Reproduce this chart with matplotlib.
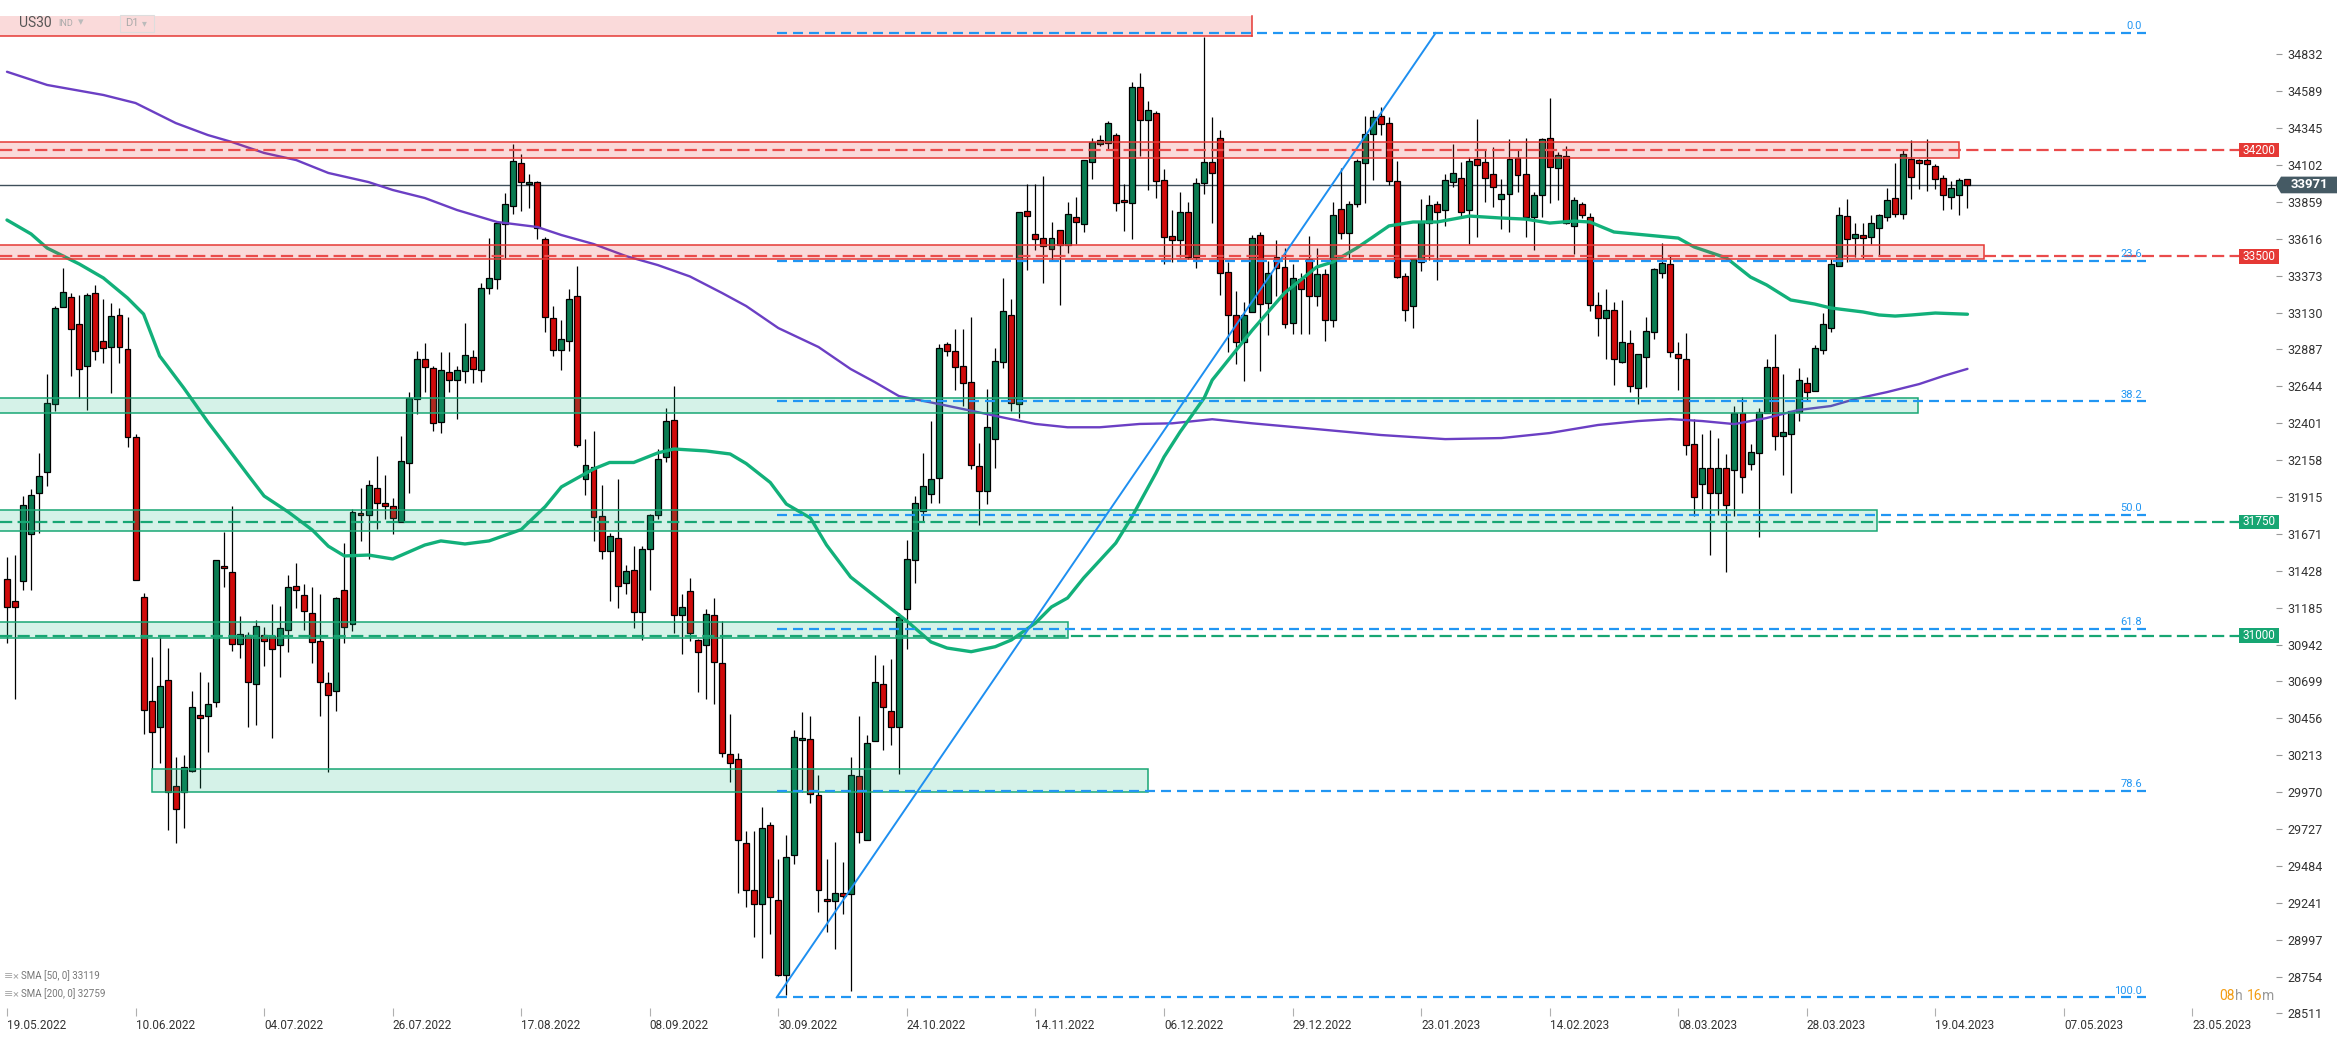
import numpy as np
import matplotlib
matplotlib.use('Agg')
import matplotlib.pyplot as plt
import matplotlib.transforms as mtrans
from matplotlib.patches import Rectangle, Polygon

plt.rcParams['font.family'] = ['Roboto', 'DejaVu Sans']

# daily candles US30 (bar 0 = 19.05.2022)
opens = [31373, 31231, 31364, 31673, 31943, 32076, 32528, 33164, 33234, 33055,
         32776, 33261, 32940, 32900, 33116, 32891, 32310, 31258, 30567, 30398,
         30707, 30007, 29970, 30110, 30479, 30473, 30564, 31458, 31419, 30946,
         31004, 30683, 31004, 31001, 30940, 31040, 31331, 31267, 31152, 30964,
         30689, 30635, 31304, 31075, 31811, 31793, 31974, 31876, 31856, 31750,
         32140, 32561, 32823, 32765, 32410, 32737, 32687, 32745, 32838, 32750,
         33291, 33349, 33714, 33830, 34114, 33976, 33989, 33618, 33097, 32881,
         32944, 33238, 32032, 32113, 31788, 31561, 31647, 31345, 31435, 31156,
         31574, 31793, 32178, 32425, 31138, 31296, 30974, 30941, 31138, 30820,
         30218, 30185, 29634, 29325, 29232, 29752, 29257, 28766, 29555, 30311,
         30318, 29949, 29268, 29251, 29304, 29297, 30074, 29652, 30307, 30683,
         30504, 30397, 31178, 31497, 31823, 31937, 32038, 32923, 32880, 32776,
         32672, 32120, 31955, 32295, 32807, 33113, 32525, 33797, 33647, 33619,
         33548, 33674, 33575, 33760, 33713, 34123, 34244, 34248, 34301, 33872,
         33852, 34618, 34402, 34446, 34002, 33632, 33608, 33793, 33493, 33984,
         34123, 34281, 33397, 33113, 32939, 33133, 33639, 33192, 33496, 33430,
         33060, 33350, 33482, 33240, 33381, 33084, 33814, 33656, 33847, 34117,
         34310, 34425, 34381, 33998, 33370, 33172, 33462, 33722, 33847, 33809,
         33992, 34014, 33807, 34139, 34123, 34044, 33880, 33913, 34150, 34044,
         33761, 33902, 34282, 34084, 34165, 33699, 33847, 33761, 33181, 33095,
         33144, 32805, 32931, 32634, 32838, 33000, 33392, 33451, 32857, 32824,
         32264, 31999, 32105, 31940, 32105, 32094, 32468, 32131, 32204, 32468,
         32772, 32318, 32329, 32472, 32666, 32611, 32886, 33029, 33436, 33768,
         33623, 33638, 33630, 33689, 33762, 33887, 33781, 34140, 34133, 34133,
         34098, 34019, 33894, 33902, 34008]
highs = [31516, 31534, 31919, 31964, 32207, 32722, 33170, 33422, 33258, 33243,
         33258, 33310, 33222, 33191, 33158, 33100, 32328, 31282, 30858, 30995,
         30919, 30201, 30213, 30637, 30761, 30692, 31501, 31682, 31858, 31131,
         31025, 31107, 31055, 31207, 31198, 31398, 31482, 31343, 31319, 31276,
         30761, 31256, 31609, 31836, 31974, 32027, 32188, 32062, 31911, 32314,
         32606, 32878, 32931, 32775, 32868, 32868, 32780, 33059, 32883, 33324,
         33623, 33730, 33921, 34240, 34172, 34046, 33996, 33626, 33173, 33082,
         33286, 33437, 32296, 32347, 31994, 31680, 32032, 31466, 31591, 31591,
         31805, 32234, 32500, 32647, 31275, 31379, 30980, 31174, 31246, 31099,
         30486, 30228, 29716, 29716, 29870, 29770, 29530, 29687, 30379, 30497,
         30468, 30085, 29526, 29644, 29508, 30200, 30468, 30343, 30870, 30809,
         30845, 31149, 31633, 31920, 32206, 32414, 32923, 32937, 33023, 33023,
         33098, 32271, 32625, 32895, 33361, 33221, 33793, 33980, 33980, 34028,
         33729, 33674, 33856, 33892, 34136, 34281, 34303, 34391, 34314, 33977,
         34648, 34706, 34527, 34457, 34079, 33808, 33925, 33856, 34017, 34948,
         34420, 34336, 33463, 33273, 33199, 33643, 33663, 33467, 33610, 33555,
         33452, 33390, 33636, 33555, 33420, 33860, 34080, 33864, 34140, 34425,
         34464, 34486, 34420, 34128, 33388, 33485, 33880, 33902, 33864, 34040,
         34238, 34121, 34156, 34403, 34209, 34222, 34007, 34275, 34209, 34282,
         33924, 34282, 34545, 34187, 34227, 33891, 33858, 33787, 33267, 33287,
         33199, 33210, 33018, 32860, 33102, 33425, 33586, 33509, 32937, 32996,
         32428, 32332, 32358, 32303, 32200, 32516, 32574, 32266, 32501, 32827,
         32992, 32728, 32479, 32765, 32704, 32915, 33124, 33480, 33825, 33876,
         33718, 33718, 33773, 33781, 33949, 34114, 34210, 34265, 34144, 34276,
         34107, 34034, 33997, 34019, 34008]
lows = [30955, 30586, 31304, 31304, 31676, 31988, 32479, 33164, 32713, 32564,
        32488, 32819, 32797, 32600, 32797, 32243, 31367, 30352, 30125, 30161,
        29722, 29631, 29731, 30101, 29995, 30237, 30531, 31322, 30898, 30852,
        30398, 30410, 30798, 30328, 30731, 30895, 31182, 31040, 30819, 30470,
        30101, 30501, 30954, 31032, 31622, 31508, 31705, 31768, 31672, 31750,
        31944, 32460, 32606, 32347, 32339, 32606, 32427, 32667, 32667, 32674,
        33253, 33286, 33487, 33782, 33802, 33820, 33613, 33002, 32845, 32750,
        32876, 32246, 31926, 31622, 31503, 31226, 31183, 31277, 31050, 30975,
        31302, 31768, 32142, 31017, 30880, 30966, 30630, 30583, 30547, 30200,
        30038, 29304, 29214, 29017, 28874, 29035, 28756, 28634, 29494, 29967,
        29895, 29179, 29046, 28938, 29168, 28659, 29634, 29652, 30307, 30246,
        30282, 30092, 30916, 31346, 31748, 31877, 31877, 32844, 32618, 32511,
        32099, 31733, 31868, 32108, 32763, 32484, 32433, 33408, 33544, 33324,
        33478, 33181, 33522, 33584, 33658, 34013, 34226, 34204, 33801, 33665,
        33617, 34160, 33936, 33885, 33449, 33463, 33496, 33480, 33427, 33911,
        33718, 33243, 32869, 32789, 32682, 33133, 32748, 32983, 33236, 33027,
        32990, 32987, 32987, 33170, 32942, 33034, 33612, 33486, 33827, 33849,
        34003, 34299, 33968, 33360, 33073, 33029, 33403, 33476, 33344, 33699,
        33959, 33765, 33583, 33629, 33858, 33827, 33684, 33660, 33924, 33629,
        33541, 33759, 33849, 33869, 33715, 33517, 33754, 33139, 32974, 32825,
        32652, 32799, 32608, 32528, 32640, 32956, 33355, 32838, 32622, 32189,
        31790, 31837, 31529, 31797, 31423, 31786, 31944, 32094, 31654, 32468,
        32226, 32057, 31944, 32413, 32556, 32611, 32860, 33000, 33436, 33462,
        33498, 33491, 33579, 33506, 33733, 33762, 33748, 33880, 33942, 33931,
        33942, 33806, 33814, 33773, 33821]
closes = [31192, 31192, 31864, 31928, 32052, 32534, 33161, 33264, 33019, 32761,
          33246, 32879, 32897, 33107, 32900, 32313, 31367, 30510, 30367, 30667,
          29970, 29858, 30137, 30528, 30455, 30552, 31501, 31446, 30946, 31010,
          30698, 31064, 30964, 30916, 31049, 31322, 31304, 31164, 30961, 30698,
          30607, 31251, 31058, 31818, 31798, 31994, 31876, 31856, 31773, 32153,
          32566, 32823, 32772, 32405, 32752, 32687, 32752, 32850, 32757, 33291,
          33359, 33719, 33845, 34130, 33989, 33989, 33686, 33102, 32883, 32956,
          33221, 32259, 32125, 31785, 31561, 31659, 31327, 31428, 31156, 31574,
          31798, 32166, 32418, 31138, 31189, 31017, 30891, 31146, 30827, 30228,
          30164, 29655, 29322, 29232, 29734, 29279, 28766, 29544, 30336, 30325,
          29960, 29322, 29255, 29304, 29286, 30081, 29705, 30296, 30694, 30529,
          30397, 31124, 31507, 31877, 31988, 32034, 32894, 32880, 32772, 32668,
          32124, 31955, 32375, 32809, 33141, 32532, 33793, 33768, 33614, 33570,
          33619, 33575, 33779, 33727, 34136, 34252, 34266, 34380, 33852, 33859,
          34618, 34402, 34468, 33995, 33628, 33610, 33793, 33493, 33984, 34123,
          34050, 33390, 33113, 32935, 33113, 33621, 33185, 33390, 33423, 33056,
          33357, 33284, 33240, 33383, 33084, 33776, 33656, 33847, 34132, 34308,
          34420, 34376, 33998, 33366, 33150, 33480, 33728, 33840, 33794, 34005,
          34051, 33794, 34132, 34104, 34014, 33959, 33913, 34145, 34036, 33761,
          33902, 34275, 34091, 34170, 33722, 33869, 33772, 33177, 33095, 33144,
          32825, 32937, 32645, 32858, 33007, 33418, 33458, 32868, 32831, 32255,
          31914, 32105, 31940, 32105, 31859, 32468, 32046, 32211, 32475, 32772,
          32318, 32343, 32479, 32684, 32607, 32897, 33055, 33451, 33775, 33616,
          33645, 33623, 33722, 33775, 33874, 33781, 34177, 34026, 34118, 34107,
          34012, 33902, 33953, 34001, 33971]

date_labels = ['19.05.2022', '10.06.2022', '04.07.2022', '26.07.2022', '17.08.2022',
               '08.09.2022', '30.09.2022', '24.10.2022', '14.11.2022', '06.12.2022',
               '29.12.2022', '23.01.2023', '14.02.2023', '08.03.2023', '28.03.2023',
               '19.04.2023', '07.05.2023', '23.05.2023']
price_ticks = [34832, 34589, 34345, 34102, 33859, 33616, 33373, 33130, 32887, 32644,
               32401, 32158, 31915, 31671, 31428, 31185, 30942, 30699, 30456, 30213,
               29970, 29727, 29484, 29241, 28997, 28754, 28511]

# moving averages, sampled along the drawn curves
sma50_idx = [0, 3, 5, 9, 12, 15, 17, 19, 22, 25, 27, 30, 32, 35, 38, 40, 42, 45, 48, 52,
             54, 57, 60, 64, 67, 69, 73, 75, 78, 81, 83, 87, 90, 92, 95, 97, 100, 102, 105,
             108, 112, 115, 117, 120, 123, 125, 128, 130, 132, 134, 138, 140, 143, 144, 146,
             149, 150, 155, 159, 163, 165, 168, 170, 172, 175, 178, 182, 186, 189, 192, 195,
             197, 200, 204, 208, 210, 214, 217, 219, 222, 225, 227, 231, 233, 235, 237, 240, 244]
sma50_val = [33740, 33648, 33555, 33450, 33358, 33226, 33120, 32844, 32633, 32409, 32270,
             32059, 31921, 31816, 31697, 31590, 31526, 31532, 31506, 31598, 31625, 31605,
             31625, 31700, 31852, 31981, 32099, 32142, 32142, 32205, 32231, 32218, 32198,
             32135, 32010, 31868, 31776, 31598, 31387, 31262, 31097, 30959, 30919, 30895,
             30928, 30972, 31084, 31190, 31249, 31381, 31611, 31783, 32073, 32178, 32343,
             32567, 32685, 33015, 33259, 33430, 33463, 33556, 33628, 33701, 33727, 33727,
             33766, 33753, 33746, 33720, 33733, 33727, 33661, 33641, 33621, 33562, 33490,
             33364, 33312, 33213, 33186, 33160, 33134, 33114, 33107, 33114, 33127, 33119]
sma200_idx = [0, 5, 12, 16, 21, 25, 28, 32, 36, 40, 45, 48, 52, 56, 61, 66, 69, 73, 77, 81,
              85, 89, 92, 96, 101, 105, 108, 111, 116, 120, 125, 128, 132, 136, 141, 145,
              150, 155, 163, 171, 179, 186, 192, 198, 203, 207, 211, 215, 219, 223, 227,
              230, 234, 238, 241, 244]
sma200_val = [34717, 34630, 34564, 34511, 34379, 34300, 34254, 34182, 34135, 34050, 33990,
              33938, 33885, 33806, 33727, 33694, 33641, 33582, 33503, 33443, 33368, 33259,
              33173, 33028, 32903, 32758, 32672, 32580, 32527, 32483, 32427, 32396, 32374,
              32374, 32396, 32400, 32427, 32400, 32362, 32323, 32296, 32303, 32336, 32389,
              32415, 32428, 32415, 32395, 32435, 32488, 32514, 32560, 32606, 32659, 32712,
              32759]

# fibonacci retracement from the 30.09 low to the high
fib_names = ['0.0', '23.6', '38.2', '50.0', '61.8', '78.6', '100.0']
fib_ratios = [0.0, 0.236, 0.382, 0.5, 0.618, 0.786, 1.0]
fib_high = 34972
fib_low = 28617
fib_from_bar = 95.8
fib_to_bar = 177.8

red_levels = [34200, 33500]
green_levels = [31750, 31000]
# (low, high, first bar, last bar)
red_zones = [(34147, 34252, -2, 243.0), (33481, 33575, -2, 246.0)]
green_zones = [(32466, 32565, -2, 237.8), (31689, 31831, -2, 232.7),
               (30985, 31091, -2, 132.0), (29971, 30122, 18.0, 142.0)]
top_zone = (34956, 35084, -2, 154.95)
last_price = 33971

GREEN = '#0a7c52'
RED = '#d00a0a'
ZONE_RED = (0.91, 0.2, 0.2, 0.18)
ZONE_GREEN = (0.1, 0.72, 0.5, 0.18)
EDGE_RED = '#e53935'
EDGE_GREEN = '#19a774'
FIB = '#2196f3'

W, H = 2346, 1039
AXW, AXH = 2276, 1016
fig = plt.figure(figsize=(W / 100, H / 100), dpi=100)
ax = fig.add_axes([0, (H - AXH) / H, AXW / W, AXH / H])
ax.set_xlim(-0.87, 282.4)
ax.set_ylim(28494, 35190)
for s in ax.spines.values():
    s.set_visible(False)


def axpos(px, py):
    return px / AXW, 1 - py / AXH


trans = mtrans.blended_transform_factory(ax.transAxes, ax.transData)

# candles
idx = np.arange(len(closes))
o = np.array(opens)
c = np.array(closes)
h = np.array(highs)
l = np.array(lows)
cols = np.where(c >= o, GREEN, RED)
ax.vlines(idx, l, h, color='black', lw=0.9, zorder=2)
ax.bar(idx, np.maximum(np.abs(c - o), 10), bottom=np.minimum(o, c), width=0.74,
       color=cols, edgecolor='black', linewidth=0.9, zorder=3)

ax.axhline(last_price, color='#3f4f5a', lw=1.0, zorder=1.5)

ax.plot(sma200_idx, sma200_val, color='#6b3fc4', lw=1.7, zorder=3.5, solid_capstyle='round')
ax.plot(sma50_idx, sma50_val, color='#12b07a', lw=2.4, zorder=3.6, solid_capstyle='round')

# zones
lo, hi, x0, x1 = top_zone
ax.add_patch(Rectangle((x0, lo), x1 - x0, hi - lo, fc=ZONE_RED, ec='none', zorder=4))
ax.plot([x0, x1], [lo, lo], color=EDGE_RED, lw=1.1, zorder=4.5)
ax.plot([x1, x1], [lo, hi], color=EDGE_RED, lw=1.1, zorder=4.5)
for lo, hi, x0, x1 in red_zones:
    ax.add_patch(Rectangle((x0, lo), x1 - x0, hi - lo, fc=ZONE_RED, ec=EDGE_RED, lw=1.1, zorder=4))
for lo, hi, x0, x1 in green_zones:
    ax.add_patch(Rectangle((x0, lo), x1 - x0, hi - lo, fc=ZONE_GREEN, ec=EDGE_GREEN, lw=1.1, zorder=4))

# horizontal levels with labels
for lvl in red_levels:
    ax.plot([-0.87, 277.8], [lvl, lvl], color='#ea4b4b', lw=1.6, dashes=(5.5, 2.4), zorder=6)
for lvl in green_levels:
    ax.plot([-0.87, 277.8], [lvl, lvl], color='#17a673', lw=1.6, dashes=(5.5, 2.4), zorder=6)
for lvl, col in [(v, '#e53935') for v in red_levels] + [(v, '#17a673') for v in green_levels]:
    ax.add_patch(Rectangle((2239 / AXW, lvl - 48), 40 / AXW, 97, transform=trans,
                           fc=col, ec='none', clip_on=False, zorder=9))
    ax.text(2259 / AXW, lvl, str(lvl), transform=trans, ha='center', va='center',
            color='white', fontsize=8.5, clip_on=False, zorder=10)

# fibonacci
for name, r in zip(fib_names, fib_ratios):
    y = fib_high - r * (fib_high - fib_low)
    ax.plot([fib_from_bar, 266.2], [y, y], color=FIB, lw=1.6, dashes=(4.5, 2.7), zorder=6)
    ax.text(265.7, y + 12, name, ha='right', va='bottom', color=FIB, fontsize=8, zorder=7)
ax.plot([fib_from_bar, fib_to_bar], [fib_low, fib_high], color='#1e8ff0', lw=1.4, zorder=5)

# last price marker
poly = Polygon([(1.0, last_price), (2281 / AXW, last_price + 55), (2337 / AXW, last_price + 55),
                (2337 / AXW, last_price - 55), (2281 / AXW, last_price - 55)],
               closed=True, transform=trans, fc='#455a64', ec='none', clip_on=False, zorder=10)
ax.add_patch(poly)
ax.text(2309 / AXW, last_price, str(last_price), transform=trans, ha='center', va='center',
        color='white', fontsize=9.5, fontweight='bold', clip_on=False, zorder=11)

# axes
ax.yaxis.tick_right()
ax.set_yticks(price_ticks)
ax.set_yticklabels([str(v) for v in price_ticks])
ax.tick_params(axis='y', direction='out', length=4, width=0.8, color='#999999', pad=4,
               labelsize=9, labelcolor='#333333')
ax.set_xticks(np.arange(0, 16 * len(date_labels), 16))
ax.set_xticklabels(date_labels, ha='left')
ax.tick_params(axis='x', direction='in', length=6, width=0.8, color='#b0b0b0', pad=2,
               labelsize=8.5, labelcolor='#333333')

# header
ax.text(*axpos(19, 23), 'US30', transform=ax.transAxes, fontsize=10, color='#555555',
        va='center', ha='left', zorder=12)
ax.text(*axpos(58, 24), 'IND', transform=ax.transAxes, fontsize=6.5, color='#aaaaaa',
        va='center', ha='left', zorder=12)
ax.text(*axpos(78, 22), '▾', transform=ax.transAxes, fontsize=8, color='#bbbbbb',
        va='center', ha='left', zorder=12)
bx, by = axpos(120, 32)
ax.add_patch(Rectangle((bx, by), 34 / AXW, 17 / AXH, transform=ax.transAxes,
                       fc='none', ec='#dddddd', lw=0.8, zorder=12))
ax.text(*axpos(125, 23.5), 'D1', transform=ax.transAxes, fontsize=8, color='#aaaaaa',
        va='center', ha='left', zorder=12)
ax.text(*axpos(142, 23), '▾', transform=ax.transAxes, fontsize=7, color='#bbbbbb',
        va='center', ha='left', zorder=12)

# indicator legend
for txt, py in [(f'SMA [50, 0] {sma50_val[-1]}', 976), (f'SMA [200, 0] {sma200_val[-1]}', 994)]:
    ax.text(*axpos(4, py), '≡', transform=ax.transAxes, fontsize=8, color='#aaaaaa',
            va='center', ha='left', family=['DejaVu Sans'], zorder=12)
    ax.text(*axpos(13, py), '×', transform=ax.transAxes, fontsize=8, color='#aaaaaa',
            va='center', ha='left', zorder=12)
    ax.text(*axpos(21, py), txt, transform=ax.transAxes, fontsize=7, color='#777777',
            va='center', ha='left', zorder=12)

# candle countdown
for txt, px, col in [('08', 2219, '#f39c12'), ('h', 2235, '#999999'),
                     ('16', 2247, '#f39c12'), ('m', 2262, '#999999')]:
    ax.text(*axpos(px, 996), txt, transform=ax.transAxes, fontsize=10, color=col,
            va='center', ha='left', clip_on=False, zorder=12)

fig.savefig('out.png', dpi=100)
